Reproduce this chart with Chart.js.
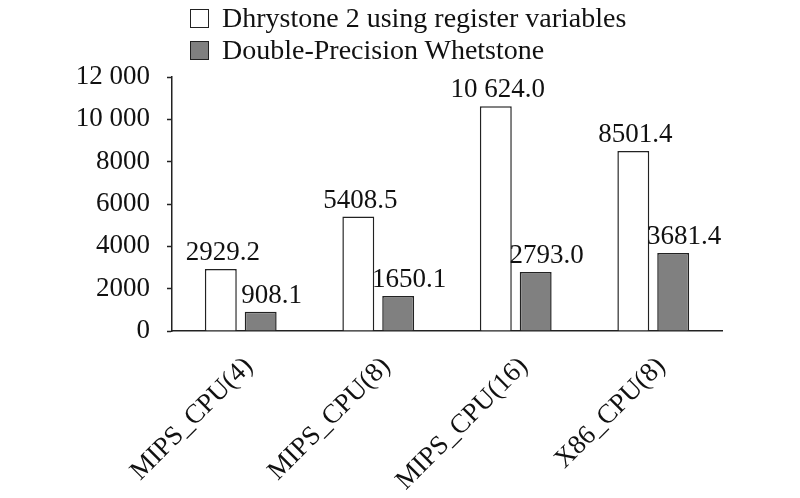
<!DOCTYPE html>
<html>
<head>
<meta charset="utf-8">
<script src="https://cdn.jsdelivr.net/npm/chart.js@4.4.1/dist/chart.umd.min.js"></script>
<style>
    body { margin: 0; background: #fff; }
    #wrap { position: relative; width: 800px; height: 498px; }
    #legend { position: absolute; left: 190px; top: 2px; font-family: 'Liberation Serif', 'Times New Roman', serif; font-size: 28px; color: #111; }
    .item { display: flex; align-items: center; height: 32px; }
    .box { width: 17px; height: 17px; border: 1.5px solid #222; margin-right: 13px; }
</style>
</head>
<body>
<div id="wrap">
    <canvas id="myChart" width="800" height="498"></canvas>
    <div id="legend"></div>
</div>
<script>
const categories = ['MIPS_CPU(4)', 'MIPS_CPU(8)', 'MIPS_CPU(16)', 'X86_CPU(8)'];
const seriesNames = ['Dhrystone 2 using register variables', 'Double-Precision Whetstone'];
const dhrystone = [2929.2, 5408.5, 10624.0, 8501.4];
const whetstone = [908.1, 1650.1, 2793.0, 3681.4];
const yTicks = [0, 2000, 4000, 6000, 8000, 10000, 12000];

const fills = ['#ffffff', '#808080'];
const labelShift = [2, 11];

// 10 000 style numbers, plain below that
function fmt(v, digits) {
    let s = v.toFixed(digits);
    if (v >= 10000) {
        const parts = s.split('.');
        parts[0] = parts[0].slice(0, -3) + ' ' + parts[0].slice(-3);
        s = parts.join('.');
    }
    return s;
}

const valueLabels = {
    id: 'valueLabels',
    afterDatasetsDraw(chart) {
        const ctx = chart.ctx;
        ctx.save();
        ctx.font = '27px "Liberation Serif"';
        ctx.fillStyle = '#111';
        ctx.textAlign = 'center';
        ctx.textBaseline = 'alphabetic';
        chart.data.datasets.forEach(function(ds, i) {
            chart.getDatasetMeta(i).data.forEach(function(bar, j) {
                ctx.fillText(fmt(ds.data[j], 1), bar.x + labelShift[i], bar.y - 9);
            });
        });
        ctx.restore();
    }
};

const ctx = document.getElementById('myChart').getContext('2d');
const chart = new Chart(ctx, {
    type: 'bar',
    data: {
        labels: categories,
        datasets: [{
            label: seriesNames[0],
            data: dhrystone,
            backgroundColor: fills[0],
            borderColor: '#222',
            borderWidth: 1.5,
            categoryPercentage: 0.58,
            barPercentage: 0.8
        }, {
            label: seriesNames[1],
            data: whetstone,
            backgroundColor: fills[1],
            borderColor: '#222',
            borderWidth: 1.5,
            categoryPercentage: 0.58,
            barPercentage: 0.8
        }]
    },
    options: {
        responsive: false,
        animation: false,
        layout: { padding: { top: 77, right: 78, left: 0, bottom: 0 } },
        plugins: {
            legend: { display: false },
            tooltip: { enabled: false }
        },
        scales: {
            x: {
                grid: { display: false, drawTicks: false },
                border: { color: '#222', width: 1.5 },
                ticks: {
                    font: { family: 'Liberation Serif', size: 27 },
                    color: '#111',
                    minRotation: 45,
                    maxRotation: 45,
                    padding: 20,
                    labelOffset: 8
                },
                afterFit: function(scale) { scale.height = 167; }
            },
            y: {
                min: 0,
                max: 12000,
                afterBuildTicks: function(scale) {
                    scale.ticks = yTicks.map(function(v) { return { value: v }; });
                },
                grid: { drawOnChartArea: false, drawTicks: true, tickLength: 5, color: '#222', tickWidth: 1.5 },
                border: { color: '#222', width: 1.5 },
                ticks: {
                    font: { family: 'Liberation Serif', size: 27 },
                    color: '#111',
                    padding: 17,
                    callback: function(v) { return fmt(v, 0); }
                },
                afterFit: function(scale) { scale.width = 172; }
            }
        }
    },
    plugins: [valueLabels]
});

// legend on two rows, left aligned like the original
const legend = document.getElementById('legend');
seriesNames.forEach(function(name, i) {
    const row = document.createElement('div');
    row.className = 'item';
    const box = document.createElement('span');
    box.className = 'box';
    box.style.background = fills[i];
    const txt = document.createElement('span');
    txt.textContent = name;
    row.appendChild(box);
    row.appendChild(txt);
    legend.appendChild(row);
});
</script>
</body>
</html>
